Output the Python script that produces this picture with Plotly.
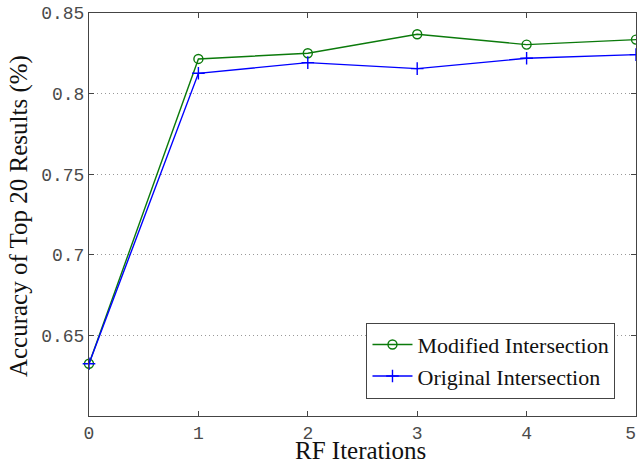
import plotly.graph_objects as go

iterations = [0, 1, 2, 3, 4, 5]
x_tick_text = ["0", "1", "2", "3", "4", "5\u00a0"]
modified = [0.6324, 0.8215, 0.8250, 0.8368, 0.8304, 0.8335]
original = [0.6324, 0.8126, 0.8192, 0.8155, 0.8219, 0.8242]
y_ticks = [0.65, 0.7, 0.75, 0.8, 0.85]
y_tick_text = ["0.65", "0.7", "0.75", "0.8", "0.85"]
x_title = "RF Iterations"
y_title = "Accuracy of Top 20 Results (%)"

fig = go.Figure()
fig.add_trace(go.Scatter(
    x=iterations, y=modified, mode="lines+markers", name="Modified Intersection",
    line=dict(color="#0b7a0b", width=1.4),
    marker=dict(symbol="circle-open", size=9, color="#0b7a0b", line=dict(width=1.4)),
    cliponaxis=False,
))
fig.add_trace(go.Scatter(
    x=iterations, y=original, mode="lines+markers", name="Original Intersection",
    line=dict(color="#0000ff", width=1.4),
    marker=dict(symbol="cross-thin-open", size=9, color="#0000ff", line=dict(width=1.4, color="#0000ff")),
    cliponaxis=False,
))

axis_font = dict(family="Liberation Mono", size=18, color="#4a4a4a")
title_font = dict(family="Liberation Serif", size=25, color="#111111")
fig.update_layout(
    width=637, height=464,
    margin=dict(l=89, r=1, t=13, b=48, autoexpand=False),
    paper_bgcolor="white", plot_bgcolor="white",
    showlegend=True,
    legend=dict(
        x=0.9625, y=0.043, xanchor="right", yanchor="bottom",
        bgcolor="white", bordercolor="#444444", borderwidth=1,
        font=dict(family="Liberation Serif", size=22, color="#111111"),
        itemwidth=40, tracegroupgap=0,
    ),
    xaxis=dict(
        range=[0, 5], tickvals=iterations, ticktext=x_tick_text, ticks="inside", ticklen=5,
        tickcolor="#444444", showline=True, linecolor="#444444", linewidth=1,
        mirror="ticks", showgrid=False, zeroline=False, tickfont=axis_font,
        automargin=False, ticklabeloverflow="allow",
    ),
    yaxis=dict(
        range=[0.6, 0.85], tickvals=y_ticks, ticktext=y_tick_text, ticks="inside", ticklen=5,
        tickcolor="#444444", showline=True, linecolor="#444444", linewidth=1,
        mirror="ticks", showgrid=True, gridcolor="#999999", griddash="1px,3px", gridwidth=1,
        zeroline=False, tickfont=axis_font, automargin=False, ticklabeloverflow="allow",
    ),
    annotations=[
        dict(text=x_title, x=0.497, y=0, xref="paper", yref="paper",
             xanchor="center", yanchor="middle", yshift=-34, showarrow=False, font=title_font),
        dict(text=y_title, x=0, y=0.496, xref="paper", yref="paper", textangle=-90,
             xanchor="center", yanchor="middle", xshift=-70, showarrow=False, font=title_font),
    ],
)

fig.write_html("out.html", config={"displayModeBar": False},
               post_script="document.body.style.margin='0';")
